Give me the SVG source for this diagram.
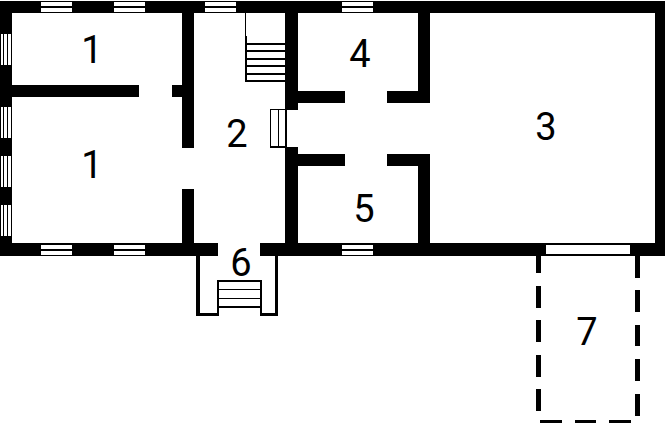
<svg xmlns="http://www.w3.org/2000/svg" width="665" height="423" viewBox="0 0 665 423">
<style>
.w{fill:#000}
.o{fill:#fff}
text{font-family:Roboto,"Liberation Sans",Arial,sans-serif;font-size:38px;fill:#000;text-anchor:middle}
</style>
<defs>
<g id="winH"><rect class="o" x="0" y="0" width="31" height="4"/><rect class="o" x="0" y="6" width="31" height="4"/></g>
<g id="winV"><rect class="o" x="0" y="0" width="2" height="31"/><rect class="o" x="3" y="0" width="3" height="31"/><rect class="o" x="7" y="0" width="3" height="31"/></g>
</defs>
<rect width="665" height="423" fill="#fff"/>
<g id="walls" shape-rendering="crispEdges">
<rect class="w" x="0" y="1" width="665" height="12"/>
<rect class="w" x="0" y="243" width="218" height="13"/>
<rect class="w" x="260" y="243" width="405" height="13"/>
<rect class="w" x="0" y="1" width="12" height="255"/>
<rect class="w" x="655" y="1" width="10" height="255"/>
<rect class="w" x="12" y="85" width="127" height="12"/>
<rect class="w" x="172" y="85" width="10" height="12"/>
<rect class="w" x="182" y="13" width="12" height="135"/>
<rect class="w" x="182" y="189" width="12" height="54"/>
<rect class="w" x="285" y="13" width="13" height="97"/>
<rect class="w" x="285" y="147" width="13" height="96"/>
<rect class="w" x="298" y="91" width="47" height="12"/>
<rect class="w" x="387" y="91" width="43" height="12"/>
<rect class="w" x="298" y="154" width="47" height="12"/>
<rect class="w" x="387" y="154" width="43" height="12"/>
<rect class="w" x="418" y="13" width="12" height="90"/>
<rect class="w" x="418" y="154" width="12" height="89"/>
</g>
<g id="windows" shape-rendering="crispEdges">
<use href="#winH" x="41" y="2"/>
<use href="#winH" x="114" y="2"/>
<use href="#winH" x="205" y="2"/>
<use href="#winH" x="342" y="2"/>
<use href="#winH" x="41" y="245"/>
<use href="#winH" x="114" y="245"/>
<use href="#winH" x="342" y="245"/>
<use href="#winV" x="1" y="34"/>
<use href="#winV" x="1" y="107"/>
<use href="#winV" x="1" y="156"/>
<use href="#winV" x="1" y="205"/>
<rect class="o" x="546" y="245" width="84" height="9"/>
</g>
<g id="stairs" shape-rendering="crispEdges">
<rect class="w" x="245" y="13" width="1" height="24"/>
<rect class="w" x="245" y="36" width="2" height="46"/>
<rect class="w" x="246" y="43" width="39" height="2"/>
<rect class="w" x="246" y="50" width="39" height="2"/>
<rect class="w" x="246" y="58" width="39" height="2"/>
<rect class="w" x="246" y="65" width="39" height="2"/>
<rect class="w" x="246" y="73" width="39" height="2"/>
<rect class="w" x="246" y="80" width="39" height="2"/>
</g>
<g id="door" shape-rendering="crispEdges">
<rect class="w" x="270" y="109" width="17" height="1"/>
<rect class="w" x="270" y="146" width="17" height="2"/>
<rect class="w" x="270" y="109" width="1" height="39"/>
<rect class="w" x="278" y="110" width="1" height="37"/>
<rect class="w" x="285" y="109" width="2" height="39"/>
</g>
<g id="porch" shape-rendering="crispEdges">
<rect class="w" x="196" y="256" width="4" height="60"/>
<rect class="w" x="275" y="256" width="3" height="60"/>
<rect class="w" x="196" y="313" width="22" height="3"/>
<rect class="w" x="260" y="313" width="18" height="3"/>
<rect class="w" x="217" y="280" width="44" height="2"/>
<rect class="w" x="217" y="306" width="44" height="2"/>
<rect class="w" x="217" y="289" width="44" height="1"/>
<rect class="w" x="217" y="298" width="44" height="1"/>
<rect class="w" x="217" y="280" width="2" height="36"/>
<rect class="w" x="260" y="280" width="2" height="36"/>
</g>
<g id="dashed-outline" shape-rendering="crispEdges">
<rect class="w" x="536" y="256" width="5" height="17"/>
<rect class="w" x="536" y="286" width="5" height="22"/>
<rect class="w" x="536" y="320" width="5" height="22"/>
<rect class="w" x="536" y="355" width="5" height="22"/>
<rect class="w" x="536" y="389" width="5" height="22"/>
<rect class="w" x="635" y="256" width="5" height="22"/>
<rect class="w" x="635" y="290" width="5" height="22"/>
<rect class="w" x="635" y="325" width="5" height="21"/>
<rect class="w" x="635" y="359" width="5" height="22"/>
<rect class="w" x="635" y="394" width="5" height="22"/>
<rect class="w" x="540" y="420" width="22" height="3"/>
<rect class="w" x="575" y="420" width="21" height="3"/>
<rect class="w" x="609" y="420" width="22" height="3"/>
</g>
<g id="labels">
<text x="92" y="63">1</text>
<text x="92" y="178">1</text>
<text x="237" y="147">2</text>
<text x="546" y="140">3</text>
<text x="360" y="67">4</text>
<text x="364" y="222">5</text>
<text x="241" y="276">6</text>
<text x="587" y="345">7</text>
</g>
</svg>
